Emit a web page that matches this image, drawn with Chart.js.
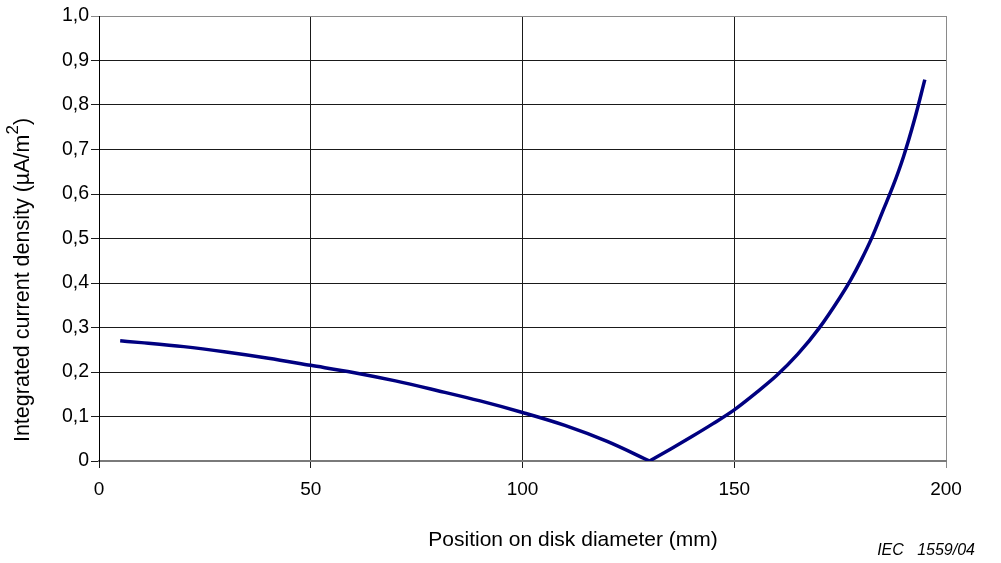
<!DOCTYPE html>
<html>
<head>
<meta charset="utf-8">
<script src="https://cdn.jsdelivr.net/npm/chart.js@4/dist/chart.umd.min.js"></script>
<style>
  html, body { margin: 0; padding: 0; background: #fff; }
  #wrap { width: 1001px; height: 563px; position: relative; }
</style>
</head>
<body>
<div id="wrap"><canvas id="c" width="1001" height="563"></canvas></div>
<script>
// Current density along the disk diameter: falling branch down to the minimum at 130 mm,
// then the rising branch towards the rim.
const fallPositions = [5, 10, 20, 30, 40, 50, 60, 70, 80, 90, 100, 110, 120, 130];
const fallDensity   = [0.270, 0.266, 0.257, 0.245, 0.231, 0.215, 0.199, 0.180, 0.158, 0.135, 0.109, 0.080, 0.044, 0];
const risePositions = [130, 135, 140, 145, 150, 155, 160, 165, 170, 175, 177.5, 180, 182.5, 185, 187.5, 190, 192.5, 195];
const riseDensity   = [0, 0.027, 0.055, 0.084, 0.115, 0.152, 0.192, 0.240, 0.298, 0.368, 0.407, 0.452, 0.502, 0.560, 0.618, 0.685, 0.765, 0.857];

const xTicks = [0, 50, 100, 150, 200];
const yTicks = [0, 0.1, 0.2, 0.3, 0.4, 0.5, 0.6, 0.7, 0.8, 0.9, 1.0];

const xTitle = 'Position on disk diameter (mm)';
const yTitle = 'Integrated current density (\u00B5A/m';
const yTitleSup = '2';
const sourceTag = 'IEC   1559/04';

const FONT = '"Liberation Sans", Arial, sans-serif';
const lineColor = '#000080';

function toPoints(xs, ys) { return xs.map((x, i) => ({ x: x, y: ys[i] })); }

// Axis titles and the source note, drawn as text on the canvas
const titlesPlugin = {
  id: 'titles',
  afterDraw(chart) {
    const ctx = chart.ctx;
    ctx.save();
    ctx.fillStyle = '#000';
    ctx.textBaseline = 'middle';

    // x axis title
    ctx.font = '21px ' + FONT;
    ctx.textAlign = 'center';
    ctx.fillText(xTitle, 573, 540);

    // y axis title, rotated, with a raised "2"
    ctx.save();
    ctx.translate(23, 280);
    ctx.rotate(-Math.PI / 2);
    ctx.font = '21.5px ' + FONT;
    const mainW = ctx.measureText(yTitle).width;
    ctx.font = '17px ' + FONT;
    const supW = ctx.measureText(yTitleSup).width;
    ctx.font = '21.5px ' + FONT;
    const closeW = ctx.measureText(')').width;
    const total = mainW + supW + closeW;
    const x0 = -total / 2;
    ctx.textAlign = 'left';
    ctx.fillText(yTitle, x0, 0);
    ctx.font = '17px ' + FONT;
    ctx.fillText(yTitleSup, x0 + mainW, -10);
    ctx.font = '21.5px ' + FONT;
    ctx.fillText(')', x0 + mainW + supW, 0);
    ctx.restore();

    // source note
    ctx.font = 'italic 16px ' + FONT;
    ctx.textAlign = 'right';
    ctx.fillText(sourceTag, 975, 551);
    ctx.restore();
  }
};

new Chart(document.getElementById('c'), {
  type: 'scatter',
  data: {
    datasets: [
      {
        data: toPoints(fallPositions, fallDensity),
        showLine: true,
        borderColor: lineColor,
        borderWidth: 3.5,
        pointRadius: 0,
        cubicInterpolationMode: 'monotone',
        fill: false
      },
      {
        data: toPoints(risePositions, riseDensity),
        showLine: true,
        borderColor: lineColor,
        borderWidth: 3.5,
        pointRadius: 0,
        cubicInterpolationMode: 'monotone',
        fill: false
      }
    ]
  },
  options: {
    responsive: false,
    animation: false,
    devicePixelRatio: 1,
    layout: { padding: { left: 0, top: 16, right: 55, bottom: 0 } },
    plugins: { legend: { display: false }, tooltip: { enabled: false } },
    scales: {
      x: {
        type: 'linear',
        min: 0,
        max: 200,
        afterBuildTicks(scale) { scale.ticks = xTicks.map(v => ({ value: v })); },
        afterFit(scale) { scale.height = 102; },
        grid: {
          color: ctx => (ctx.tick && ctx.tick.value === 200) ? '#8a8a8a' : '#1a1a1a',
          lineWidth: 1,
          tickLength: 7,
          drawTicks: true
        },
        border: { display: true, color: '#7a7a7a', width: 2 },
        ticks: {
          color: '#000',
          font: { family: FONT, size: 19 },
          padding: 10,
          maxRotation: 0,
          callback: v => String(v)
        }
      },
      y: {
        type: 'linear',
        min: 0,
        max: 1,
        afterBuildTicks(scale) { scale.ticks = yTicks.map(v => ({ value: v })); },
        afterFit(scale) { scale.width = 99; },
        grid: {
          color: ctx => (ctx.tick && Math.abs(ctx.tick.value - 1) < 1e-9) ? '#8a8a8a' : '#1a1a1a',
          lineWidth: 1,
          tickLength: 8,
          drawTicks: true
        },
        border: { display: true, color: '#000', width: 1 },
        ticks: {
          color: '#000',
          font: { family: FONT, size: 19.5 },
          padding: 2,
          callback: v => (v === 0 ? '0' : v.toFixed(1).replace('.', ','))
        }
      }
    }
  },
  plugins: [titlesPlugin]
});
</script>
</body>
</html>
